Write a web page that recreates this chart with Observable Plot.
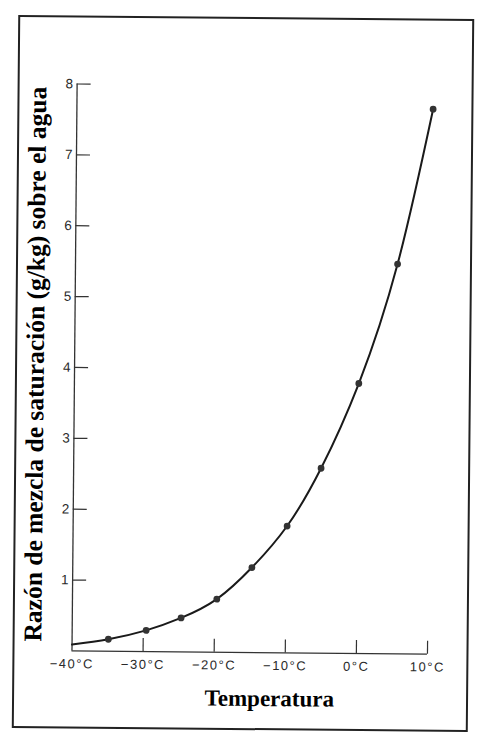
<!DOCTYPE html>
<html>
<head>
<meta charset="utf-8">
<script src="https://cdn.jsdelivr.net/npm/d3@7"></script>
<script src="https://cdn.jsdelivr.net/npm/@observablehq/plot@0.6"></script>
<style>
  html, body { margin: 0; padding: 0; background: #ffffff; }
  #page {
    position: relative; width: 481px; height: 750px; overflow: hidden;
  }
  #sheet {
    position: absolute; left: 0; top: 0; width: 481px; height: 750px;
    transform-origin: 243px 374px; transform: rotate(0.52deg);
  }
  #frame {
    position: absolute; left: 15px; top: 17px; width: 452px; height: 709px;
    border: 2px solid #222;
  }
  #chart { position: absolute; left: 0; top: 0; }
  #chart svg [aria-label="x-axis tick label"] text { letter-spacing: 1.5px; }
</style>
</head>
<body>
<div id="page"><div id="sheet"><div id="frame"></div><div id="chart"></div></div></div>
<script>
// Temperature (°C) and saturation mixing ratio over water (g/kg)
const temps  = [-34.9, -29.6, -24.7, -19.7, -14.8, -9.9, -5.2, 0.0, 5.3, 10.1];
const ratios = [0.17, 0.30, 0.48, 0.75, 1.20, 1.79, 2.61, 3.81, 5.50, 7.69];
// where the drawn curve begins at the left axis
const startTemp = -40;
const startRatio = 0.09;

const xTicks = [-40, -30, -20, -10, 0, 10];
const xTickMarks = [-30, -20, -10, 0, 10];
const yTicks = [1, 2, 3, 4, 5, 6, 7, 8];
const xLabel = "Temperatura";
const yLabel = "Razón de mezcla de saturación (g/kg) sobre el agua";

const points = temps.map((t, i) => ({t, r: ratios[i]}));
const curvePts = [{t: startTemp, r: startRatio}, ...points];

const fmt = d => (d < 0 ? "\u2212" + Math.abs(d) : String(d)) + "°C";

const chart = Plot.plot({
  width: 481,
  height: 750,
  marginLeft: 74,
  marginRight: 51.5,
  marginTop: 85,
  marginBottom: 98,
  style: {background: "transparent", fontFamily: "Liberation Sans, Arial, sans-serif", overflow: "visible"},
  x: {domain: [-40, 10]},
  y: {domain: [0, 8]},
  marks: [
    Plot.ruleY([0], {x1: -40, x2: 10, stroke: "#333", strokeWidth: 1.3}),
    Plot.ruleX([-40], {y1: 0, y2: 8, stroke: "#333", strokeWidth: 1.3}),
    Plot.ruleX(xTickMarks, {x: d => d, y1: 0, y2: 0, insetTop: -13, stroke: "#333", strokeWidth: 1.2}),
    Plot.ruleY(yTicks, {y: d => d, x1: -40, x2: -40, insetRight: -14, stroke: "#333", strokeWidth: 1.2}),
    Plot.axisX({ticks: xTicks, tickSize: 0, tickPadding: 8, tickFormat: fmt, label: null,
                fontSize: 13, fill: "#2a2a2a"}),
    Plot.axisY({ticks: yTicks, tickSize: 0, tickPadding: 4, label: null,
                fontSize: 13.5, fill: "#2a2a2a"}),
    Plot.line(curvePts, {x: "t", y: "r", curve: "natural", stroke: "#1a1a1a", strokeWidth: 2}),
    Plot.dot(points, {x: "t", y: "r", r: 3.4, fill: "#333", stroke: "none"}),
    Plot.text([yLabel], {text: d => d, frameAnchor: "left", textAnchor: "middle", lineAnchor: "middle",
                dx: -39, dy: -3, rotate: -90,
                fontFamily: "Liberation Serif, Times New Roman, serif", fontWeight: "bold",
                fontSize: 25.5, fill: "#000"}),
    Plot.text([xLabel], {text: d => d, frameAnchor: "bottom", textAnchor: "middle", lineAnchor: "middle",
                dx: 20, dy: 46,
                fontFamily: "Liberation Serif, Times New Roman, serif", fontWeight: "bold",
                fontSize: 23, fill: "#000"})
  ]
});
document.getElementById("chart").appendChild(chart);
</script>
</body>
</html>
